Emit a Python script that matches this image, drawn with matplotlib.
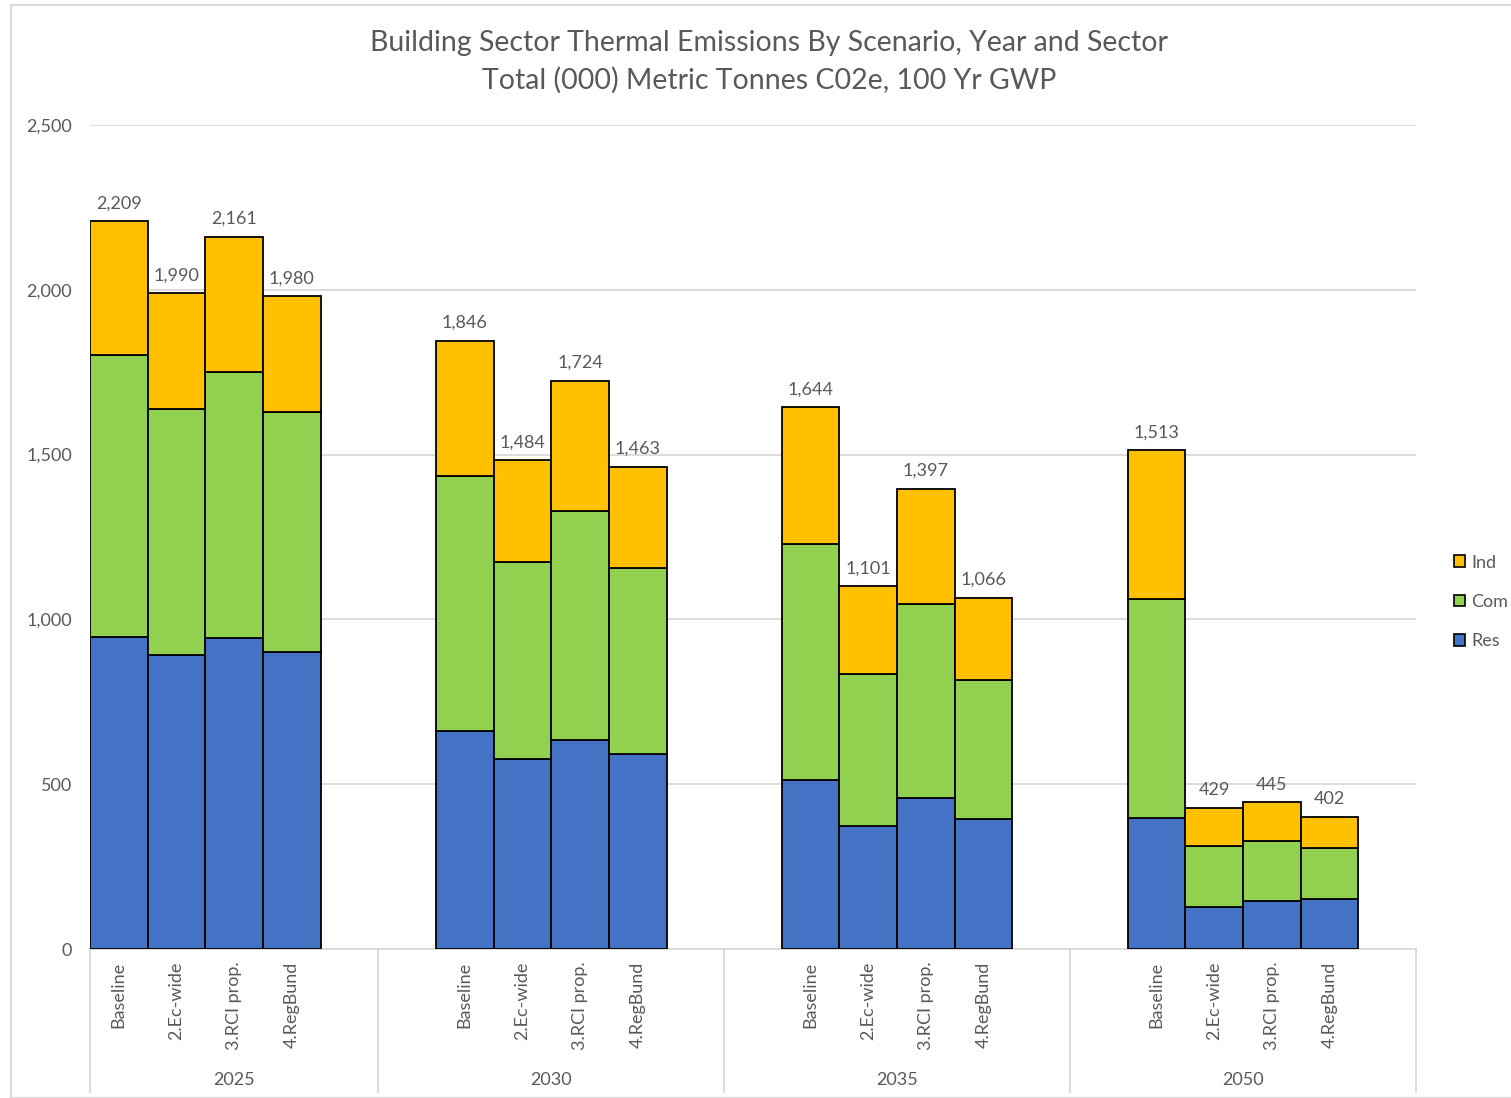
import matplotlib.pyplot as plt
from matplotlib.patches import Rectangle
from matplotlib.transforms import blended_transform_factory

plt.rcParams['font.family'] = ['Lato', 'DejaVu Sans']

years = ["2025", "2030", "2035", "2050"]
scenarios = ["Baseline", "2.Ec-wide", "3.RCI prop.", "4.RegBund"]

# values per year, in scenario order
res = [[947, 892, 944, 901],
       [661, 576, 634, 592],
       [513, 373, 458, 394],
       [397, 127, 146, 152]]
com = [[855, 746, 807, 728],
       [774, 598, 695, 564],
       [716, 461, 589, 422],
       [665, 185, 182, 154]]
ind = [[407, 352, 410, 351],
       [411, 310, 395, 307],
       [415, 267, 350, 250],
       [451, 117, 117, 96]]
totals = [[2209, 1990, 2161, 1980],
          [1846, 1484, 1724, 1463],
          [1644, 1101, 1397, 1066],
          [1513, 429, 445, 402]]

c_res = "#4472C4"
c_com = "#92D050"
c_ind = "#FFC000"
grey = "#595959"

fig = plt.figure(figsize=(15.11, 10.98), dpi=100)
ax = fig.add_axes([90/1511, 1-949/1098, 1326/1511, 824/1098])

group_start = [0, 6, 12, 18]
bounds = [0, 5, 11, 17, 23]

xs, labels = [], []
for g in range(4):
    x = [group_start[g] + i + 0.5 for i in range(4)]
    r, c, d = res[g], com[g], ind[g]
    b2 = [r[i] + c[i] for i in range(4)]
    ax.bar(x, r, width=1, color=c_res, edgecolor="black", linewidth=1.3, zorder=3)
    ax.bar(x, c, width=1, bottom=r, color=c_com, edgecolor="black", linewidth=1.3, zorder=3)
    ax.bar(x, d, width=1, bottom=b2, color=c_ind, edgecolor="black", linewidth=1.3, zorder=3)
    for i in range(4):
        ax.annotate(f"{totals[g][i]:,}", (x[i], r[i] + c[i] + d[i]), xytext=(0, 7),
                    textcoords="offset points", ha="center", va="bottom",
                    fontsize=13, color=grey)
    xs += x
    labels += scenarios

ax.set_xlim(0, 23)
ax.set_ylim(0, 2500)
ax.set_yticks(range(0, 2501, 500))
ax.set_yticklabels([f"{v:,}" for v in range(0, 2501, 500)])
ax.yaxis.grid(True, color="#D9D9D9", linewidth=1.3, zorder=0)
ax.set_axisbelow(True)
for s in ["top", "right", "left"]:
    ax.spines[s].set_visible(False)
ax.spines["bottom"].set_color("#D9D9D9")
ax.spines["bottom"].set_linewidth(1.3)
ax.tick_params(axis="y", length=0, pad=13, labelsize=13, labelcolor=grey)
ax.set_xticks(xs)
ax.set_xticklabels(labels, rotation=90, va="top", ha="center")
ax.tick_params(axis="x", length=0, pad=9, labelsize=13, labelcolor=grey)

tr = blended_transform_factory(ax.transData, ax.transAxes)
for b in bounds:
    ax.plot([b, b], [0, -0.174], color="#D9D9D9", linewidth=1.3, transform=tr, clip_on=False)
for g in range(4):
    ax.text((bounds[g] + bounds[g + 1]) / 2, -0.159, years[g], transform=tr,
            ha="center", va="center", fontsize=13, color=grey)

fig.text(0.509, 1-43/1098, "Building Sector Thermal Emissions By Scenario, Year and Sector",
         ha="center", va="center", fontsize=20.5, color=grey)
fig.text(0.509, 1-80/1098, "Total (000) Metric Tonnes C02e, 100 Yr GWP",
         ha="center", va="center", fontsize=20.5, color=grey)

handles = [Rectangle((0, 0), 1, 1, facecolor=col, edgecolor="black", linewidth=1.2)
           for col in [c_ind, c_com, c_res]]
fig.legend(handles, ["Ind", "Com", "Res"], loc="center left",
           bbox_to_anchor=(1438/1511, 1-602/1098), frameon=False, fontsize=13,
           labelcolor=grey, handlelength=0.6, handleheight=0.6, handletextpad=0.35,
           labelspacing=1.3)

fig.patches.append(Rectangle((11/1511, 0), 1.0, 1-5/1098, transform=fig.transFigure,
                             fill=False, edgecolor="#D9D9D9", linewidth=1.5))

fig.savefig("out.png", dpi=100)
